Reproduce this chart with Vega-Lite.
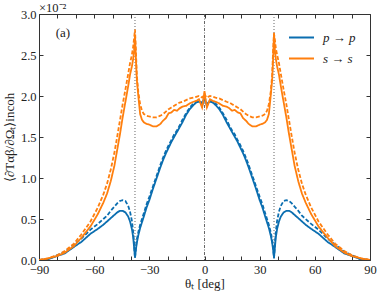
{
  "$schema": "https://vega.github.io/schema/vega-lite/v6.json",
  "width": 331,
  "height": 246,
  "autosize": {"type": "none"},
  "padding": {"left": 39, "top": 14, "right": 20, "bottom": 33},
  "title": {"text": "×10⁻²", "anchor": "start", "frame": "group", "offset": -6, "fontSize": 12.5, "fontWeight": "normal", "font": "Liberation Serif", "color": "#222"},
  "config": {
    "font": "Liberation Serif",
    "view": {"stroke": "#333", "strokeWidth": 1},
    "axis": {"domain": false, "grid": false, "tickColor": "#333", "labelColor": "#222", "titleColor": "#222", "labelFontSize": 12.5, "titleFontSize": 13, "titleFontWeight": "normal", "labelFont": "Liberation Serif", "titleFont": "Liberation Serif"}
  },
  "datasets": {
    "curves": [
      {"t": -90, "pp": 0, "ppd": 0, "ss": 0, "ssd": 0},
      {"t": -85, "pp": 0.01, "ppd": 0.01, "ss": 0.02, "ssd": 0.02},
      {"t": -80, "pp": 0.05, "ppd": 0.06, "ss": 0.05, "ssd": 0.06},
      {"t": -76, "pp": 0.08, "ppd": 0.10, "ss": 0.09, "ssd": 0.11},
      {"t": -71, "pp": 0.16, "ppd": 0.19, "ss": 0.17, "ssd": 0.20},
      {"t": -67, "pp": 0.22, "ppd": 0.26, "ss": 0.27, "ssd": 0.31},
      {"t": -62, "pp": 0.32, "ppd": 0.37, "ss": 0.41, "ssd": 0.47},
      {"t": -58, "pp": 0.38, "ppd": 0.44, "ss": 0.56, "ssd": 0.64},
      {"t": -55, "pp": 0.43, "ppd": 0.50, "ss": 0.70, "ssd": 0.80},
      {"t": -53, "pp": 0.47, "ppd": 0.54, "ss": 0.81, "ssd": 0.93},
      {"t": -51, "pp": 0.51, "ppd": 0.60, "ss": 0.96, "ssd": 1.10},
      {"t": -49, "pp": 0.55, "ppd": 0.65, "ss": 1.15, "ssd": 1.31},
      {"t": -47.5, "pp": 0.58, "ppd": 0.69, "ss": 1.34, "ssd": 1.50},
      {"t": -46, "pp": 0.60, "ppd": 0.72, "ss": 1.53, "ssd": 1.70},
      {"t": -44.5, "pp": 0.60, "ppd": 0.73, "ss": 1.74, "ssd": 1.90},
      {"t": -43, "pp": 0.58, "ppd": 0.72, "ss": 1.93, "ssd": 2.08},
      {"t": -41.5, "pp": 0.53, "ppd": 0.66, "ss": 2.12, "ssd": 2.27},
      {"t": -40.5, "pp": 0.47, "ppd": 0.59, "ss": 2.26, "ssd": 2.40},
      {"t": -39.5, "pp": 0.38, "ppd": 0.48, "ss": 2.36, "ssd": 2.50},
      {"t": -38.8, "pp": 0.28, "ppd": 0.35, "ss": 2.45, "ssd": 2.60},
      {"t": -38.3, "pp": 0.16, "ppd": 0.20, "ss": 2.55, "ssd": 2.70},
      {"t": -37.8, "pp": 0.03, "ppd": 0.02, "ss": 2.74, "ssd": 2.81},
      {"t": -37.3, "pp": 0.13, "ppd": 0.15, "ss": 2.45, "ssd": 2.55},
      {"t": -36.8, "pp": 0.21, "ppd": 0.25, "ss": 2.20, "ssd": 2.25},
      {"t": -36, "pp": 0.30, "ppd": 0.34, "ss": 2.00, "ssd": 2.05},
      {"t": -35, "pp": 0.39, "ppd": 0.43, "ss": 1.78, "ssd": 1.90},
      {"t": -34, "pp": 0.46, "ppd": 0.50, "ss": 1.71, "ssd": 1.82},
      {"t": -33, "pp": 0.53, "ppd": 0.57, "ss": 1.68, "ssd": 1.78},
      {"t": -31.5, "pp": 0.64, "ppd": 0.68, "ss": 1.66, "ssd": 1.76},
      {"t": -30, "pp": 0.73, "ppd": 0.77, "ss": 1.65, "ssd": 1.75},
      {"t": -28, "pp": 0.87, "ppd": 0.90, "ss": 1.63, "ssd": 1.74},
      {"t": -26, "pp": 1.00, "ppd": 1.03, "ss": 1.63, "ssd": 1.74},
      {"t": -24, "pp": 1.13, "ppd": 1.16, "ss": 1.66, "ssd": 1.76},
      {"t": -22.5, "pp": 1.22, "ppd": 1.25, "ss": 1.70, "ssd": 1.78},
      {"t": -21, "pp": 1.30, "ppd": 1.33, "ss": 1.73, "ssd": 1.81},
      {"t": -19.5, "pp": 1.37, "ppd": 1.40, "ss": 1.79, "ssd": 1.84},
      {"t": -18, "pp": 1.44, "ppd": 1.46, "ss": 1.80, "ssd": 1.86},
      {"t": -16.5, "pp": 1.50, "ppd": 1.53, "ss": 1.83, "ssd": 1.88},
      {"t": -15, "pp": 1.56, "ppd": 1.58, "ss": 1.82, "ssd": 1.90},
      {"t": -13.5, "pp": 1.62, "ppd": 1.64, "ss": 1.85, "ssd": 1.92},
      {"t": -12, "pp": 1.68, "ppd": 1.71, "ss": 1.87, "ssd": 1.93},
      {"t": -10, "pp": 1.77, "ppd": 1.79, "ss": 1.88, "ssd": 1.95},
      {"t": -8, "pp": 1.84, "ppd": 1.86, "ss": 1.91, "ssd": 1.97},
      {"t": -6, "pp": 1.89, "ppd": 1.91, "ss": 1.93, "ssd": 1.98},
      {"t": -4.5, "pp": 1.92, "ppd": 1.93, "ss": 1.94, "ssd": 1.99},
      {"t": -3, "pp": 1.93, "ppd": 1.94, "ss": 1.96, "ssd": 2.00},
      {"t": -2, "pp": 1.92, "ppd": 1.93, "ss": 1.90, "ssd": 1.99},
      {"t": -1.3, "pp": 1.88, "ppd": 1.90, "ss": 1.86, "ssd": 1.98},
      {"t": -0.6, "pp": 1.93, "ppd": 1.95, "ss": 1.95, "ssd": 2.00},
      {"t": 0, "pp": 1.99, "ppd": 2.00, "ss": 2.06, "ssd": 2.03},
      {"t": 0.6, "pp": 1.93, "ppd": 1.95, "ss": 1.95, "ssd": 2.00},
      {"t": 1.3, "pp": 1.88, "ppd": 1.90, "ss": 1.86, "ssd": 1.98},
      {"t": 2, "pp": 1.92, "ppd": 1.93, "ss": 1.90, "ssd": 1.99},
      {"t": 3, "pp": 1.93, "ppd": 1.94, "ss": 1.96, "ssd": 2.00},
      {"t": 4.5, "pp": 1.92, "ppd": 1.93, "ss": 1.94, "ssd": 1.99},
      {"t": 6, "pp": 1.89, "ppd": 1.91, "ss": 1.93, "ssd": 1.98},
      {"t": 8, "pp": 1.84, "ppd": 1.86, "ss": 1.91, "ssd": 1.97},
      {"t": 10, "pp": 1.77, "ppd": 1.79, "ss": 1.88, "ssd": 1.95},
      {"t": 12, "pp": 1.68, "ppd": 1.71, "ss": 1.87, "ssd": 1.93},
      {"t": 13.5, "pp": 1.62, "ppd": 1.64, "ss": 1.85, "ssd": 1.92},
      {"t": 15, "pp": 1.56, "ppd": 1.58, "ss": 1.82, "ssd": 1.90},
      {"t": 16.5, "pp": 1.50, "ppd": 1.53, "ss": 1.83, "ssd": 1.88},
      {"t": 18, "pp": 1.44, "ppd": 1.46, "ss": 1.80, "ssd": 1.86},
      {"t": 19.5, "pp": 1.37, "ppd": 1.40, "ss": 1.79, "ssd": 1.84},
      {"t": 21, "pp": 1.30, "ppd": 1.33, "ss": 1.73, "ssd": 1.81},
      {"t": 22.5, "pp": 1.22, "ppd": 1.25, "ss": 1.70, "ssd": 1.78},
      {"t": 24, "pp": 1.13, "ppd": 1.16, "ss": 1.66, "ssd": 1.76},
      {"t": 26, "pp": 1.00, "ppd": 1.03, "ss": 1.63, "ssd": 1.74},
      {"t": 28, "pp": 0.87, "ppd": 0.90, "ss": 1.63, "ssd": 1.74},
      {"t": 30, "pp": 0.73, "ppd": 0.77, "ss": 1.65, "ssd": 1.75},
      {"t": 31.5, "pp": 0.64, "ppd": 0.68, "ss": 1.66, "ssd": 1.76},
      {"t": 33, "pp": 0.53, "ppd": 0.57, "ss": 1.68, "ssd": 1.78},
      {"t": 34, "pp": 0.46, "ppd": 0.50, "ss": 1.71, "ssd": 1.82},
      {"t": 35, "pp": 0.39, "ppd": 0.43, "ss": 1.78, "ssd": 1.90},
      {"t": 36, "pp": 0.30, "ppd": 0.34, "ss": 2.00, "ssd": 2.05},
      {"t": 36.8, "pp": 0.21, "ppd": 0.25, "ss": 2.20, "ssd": 2.25},
      {"t": 37.3, "pp": 0.13, "ppd": 0.15, "ss": 2.45, "ssd": 2.55},
      {"t": 37.8, "pp": 0.03, "ppd": 0.02, "ss": 2.77, "ssd": 2.76},
      {"t": 38.3, "pp": 0.16, "ppd": 0.20, "ss": 2.55, "ssd": 2.68},
      {"t": 38.8, "pp": 0.28, "ppd": 0.35, "ss": 2.45, "ssd": 2.58},
      {"t": 39.5, "pp": 0.38, "ppd": 0.48, "ss": 2.36, "ssd": 2.50},
      {"t": 40.5, "pp": 0.47, "ppd": 0.59, "ss": 2.26, "ssd": 2.40},
      {"t": 41.5, "pp": 0.53, "ppd": 0.66, "ss": 2.12, "ssd": 2.27},
      {"t": 43, "pp": 0.58, "ppd": 0.72, "ss": 1.93, "ssd": 2.08},
      {"t": 44.5, "pp": 0.60, "ppd": 0.73, "ss": 1.74, "ssd": 1.90},
      {"t": 46, "pp": 0.60, "ppd": 0.72, "ss": 1.53, "ssd": 1.70},
      {"t": 47.5, "pp": 0.58, "ppd": 0.69, "ss": 1.34, "ssd": 1.50},
      {"t": 49, "pp": 0.55, "ppd": 0.65, "ss": 1.15, "ssd": 1.31},
      {"t": 51, "pp": 0.51, "ppd": 0.60, "ss": 0.96, "ssd": 1.10},
      {"t": 53, "pp": 0.47, "ppd": 0.54, "ss": 0.81, "ssd": 0.93},
      {"t": 55, "pp": 0.43, "ppd": 0.50, "ss": 0.70, "ssd": 0.80},
      {"t": 58, "pp": 0.38, "ppd": 0.44, "ss": 0.56, "ssd": 0.64},
      {"t": 62, "pp": 0.32, "ppd": 0.37, "ss": 0.41, "ssd": 0.47},
      {"t": 67, "pp": 0.22, "ppd": 0.26, "ss": 0.27, "ssd": 0.31},
      {"t": 71, "pp": 0.16, "ppd": 0.19, "ss": 0.17, "ssd": 0.20},
      {"t": 76, "pp": 0.08, "ppd": 0.10, "ss": 0.09, "ssd": 0.11},
      {"t": 80, "pp": 0.05, "ppd": 0.06, "ss": 0.05, "ssd": 0.06},
      {"t": 85, "pp": 0.01, "ppd": 0.01, "ss": 0.02, "ssd": 0.02},
      {"t": 90, "pp": 0, "ppd": 0, "ss": 0, "ssd": 0}
    ],
    "dotted": [{"t": -37.8}, {"t": 37.8}],
    "center": [{"t": 0}],
    "label": [{"t": -77, "v": 2.77, "txt": "(a)"}]
  },
  "layer": [
    {
      "data": {"name": "dotted"},
      "mark": {"type": "rule", "color": "#555", "strokeWidth": 0.9, "strokeDash": [1, 2]},
      "encoding": {"x": {"field": "t", "type": "quantitative", "scale": {"domain": [-90, 90], "nice": false}, "axis": null}}
    },
    {
      "data": {"name": "center"},
      "mark": {"type": "rule", "color": "#555", "strokeWidth": 0.9, "strokeDash": [3, 1.5, 1, 1.5]},
      "encoding": {"x": {"field": "t", "type": "quantitative", "axis": null}}
    },
    {
      "data": {"name": "curves"},
      "transform": [{"fold": ["pp", "ppd", "ss", "ssd"], "as": ["key", "v"]}],
      "mark": {"type": "line", "strokeWidth": 1.8, "clip": true},
      "encoding": {
        "x": {
          "field": "t", "type": "quantitative",
          "scale": {"domain": [-90, 90], "nice": false},
          "axis": {
            "orient": "bottom",
            "values": [-90, -80, -70, -60, -50, -40, -30, -20, -10, 0, 10, 20, 30, 40, 50, 60, 70, 80, 90],
            "labelExpr": "datum.value % 30 === 0 ? datum.label : ''",
            "tickSize": -4, "labelPadding": 7, "labelFlush": false,
            "title": "θₜ [deg]", "titlePadding": 2
          }
        },
        "y": {
          "field": "v", "type": "quantitative",
          "scale": {"domain": [0, 3], "nice": false},
          "axis": {
            "orient": "left",
            "values": [0, 0.5, 1, 1.5, 2, 2.5, 3],
            "format": ".1f",
            "tickSize": -4, "labelPadding": 7, "labelFlush": false,
            "title": "⟨∂Tαβ/∂Ωₜ⟩incoh", "titlePadding": 4
          }
        },
        "color": {
          "field": "key", "type": "nominal",
          "scale": {"domain": ["pp", "ppd", "ss", "ssd"], "range": ["#0b6eb0", "#0b6eb0", "#ff7f0e", "#ff7f0e"]},
          "legend": {
            "values": ["pp", "ss"],
            "labelExpr": "datum.label == 'pp' ? 'p → p' : 's → s'",
            "title": null, "orient": "none", "legendX": 249, "legendY": 10,
            "symbolType": "stroke", "symbolSize": 625, "symbolStrokeWidth": 2,
            "labelFontSize": 13, "labelFontStyle": "italic", "labelFont": "Liberation Serif",
            "labelColor": "#222", "rowPadding": -9, "labelOffset": 8
          }
        },
        "strokeDash": {
          "field": "key", "type": "nominal",
          "scale": {"domain": ["pp", "ppd", "ss", "ssd"], "range": [[1, 0], [4, 2], [1, 0], [4, 2]]},
          "legend": null
        }
      }
    },
    {
      "data": {"name": "label"},
      "mark": {"type": "text", "fontSize": 13, "font": "Liberation Serif", "color": "#222"},
      "encoding": {
        "x": {
          "field": "t", "type": "quantitative",
          "axis": {"orient": "top", "labels": false, "title": null, "tickSize": -4,
            "values": [-90, -80, -70, -60, -50, -40, -30, -20, -10, 0, 10, 20, 30, 40, 50, 60, 70, 80, 90]}
        },
        "y": {
          "field": "v", "type": "quantitative",
          "axis": {"orient": "right", "labels": false, "title": null, "tickSize": -4,
            "values": [0, 0.5, 1, 1.5, 2, 2.5, 3]}
        },
        "text": {"field": "txt"}
      }
    }
  ],
  "resolve": {"axis": {"x": "independent", "y": "independent"}}
}
